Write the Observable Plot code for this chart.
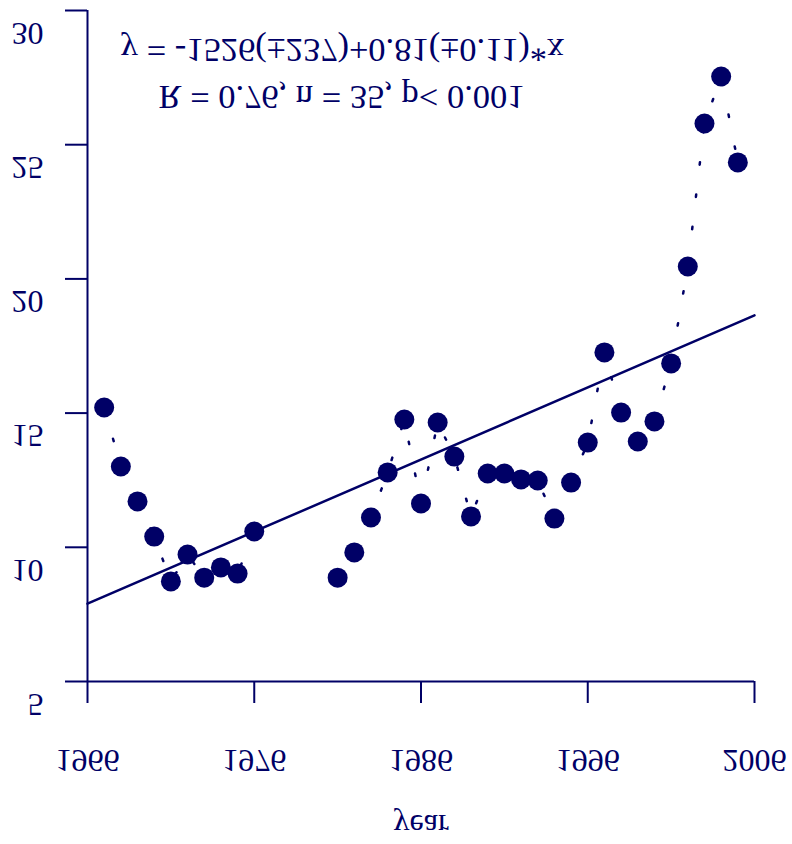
<!DOCTYPE html>
<html>
<head>
<meta charset="utf-8">
<script src="https://cdn.jsdelivr.net/npm/d3@7"></script>
<script src="https://cdn.jsdelivr.net/npm/@observablehq/plot@0.6"></script>
<style>
  body { margin: 0; background: #ffffff; }
</style>
</head>
<body>
<div id="chart"></div>
<script>
// ---- data ----
const years = [1967, 1968, 1969, 1970, 1971, 1972, 1973, 1974, 1975, 1976,
               1977, 1978, 1979, 1980,
               1981, 1982, 1983, 1984, 1985, 1986, 1987, 1988, 1989, 1990,
               1991, 1992, 1993, 1994, 1995, 1996, 1997, 1998, 1999, 2000,
               2001, 2002, 2003, 2004, 2005];
const values = [15.21, 13.01, 11.71, 10.40, 8.73, 9.73, 8.87, 9.25, 9.02, 10.59,
                null, null, null, null,
                8.87, 9.81, 11.11, 12.79, 14.76, 11.63, 14.65, 13.38, 11.15, 12.75,
                12.75, 12.53, 12.49, 11.07, 12.41, 13.90, 17.26, 15.02, 13.94, 14.69,
                16.85, 20.46, 25.79, 27.54, 24.34];
const fitYears = [1966, 2006];
const fitValues = [7.90, 18.64];
const xTicks = [1966, 1976, 1986, 1996, 2006];
const yTicks = [5, 10, 15, 20, 25, 30];
const xDomain = [1966, 2006];
const yDomain = [5, 30];
const xLabel = "year";
const formulaLines = ["y = -1526(\u00b1237)+0.81(\u00b10.11)*x", "R = 0.76, n = 35, p< 0.001"];

const navy = "#000066";
const data = years.map((year, i) => ({year, value: values[i]}));
const fit = fitYears.map((year, i) => ({year, value: fitValues[i]}));

const svg = Plot.plot({
  width: 792,
  height: 844,
  marginLeft: 87,
  marginRight: 38,
  marginTop: 10,
  marginBottom: 163,
  style: {fontFamily: "'Liberation Serif', 'DejaVu Serif', serif", fontSize: "32px", color: navy, background: "#ffffff"},
  x: {domain: xDomain, label: null},
  y: {domain: yDomain, label: null},
  marks: [
    Plot.ruleY([yDomain[0]], {stroke: navy, strokeWidth: 2}),
    Plot.ruleX([xDomain[0]], {stroke: navy, strokeWidth: 2}),
    Plot.axisX({ticks: xTicks, tickSize: 22, tickPadding: 46, strokeWidth: 2, tickFormat: d => String(d), label: null}),
    Plot.axisY({ticks: yTicks, tickSize: 22, strokeWidth: 2, fill: "none", label: null}),
    Plot.axisY({ticks: yTicks, tickSize: 0, tickPadding: 44, dy: 24, tickFormat: d => String(d), label: null}),
    Plot.line(fit, {x: "year", y: "value", stroke: navy, strokeWidth: 2.5}),
    Plot.line(data, {x: "year", y: "value", stroke: navy, strokeWidth: 2.5, strokeDasharray: "2.5,30"}),
    Plot.dot(data, {x: "year", y: "value", r: 10, fill: navy, stroke: null}),
    Plot.text([formulaLines[0]], {frameAnchor: "top", dx: -78.5, dy: 40, lineAnchor: "middle", fill: navy, fontSize: 34.5}),
    Plot.text([formulaLines[1]], {frameAnchor: "top", dx: -79.5, dy: 88, lineAnchor: "middle", fill: navy, fontSize: 34.5}),
    Plot.text([xLabel], {frameAnchor: "bottom", dy: 145, lineAnchor: "middle", fill: navy})
  ]
});

document.getElementById("chart").append(svg);

// every text in the reference is mirrored top-to-bottom about its own centre
svg.querySelectorAll("text").forEach(t => {
  const b = t.getBBox();
  const cy = b.y + b.height / 2;
  const tr = t.getAttribute("transform") || "";
  t.setAttribute("transform", `${tr} translate(0,${2 * cy}) scale(1,-1)`);
});
</script>
</body>
</html>
